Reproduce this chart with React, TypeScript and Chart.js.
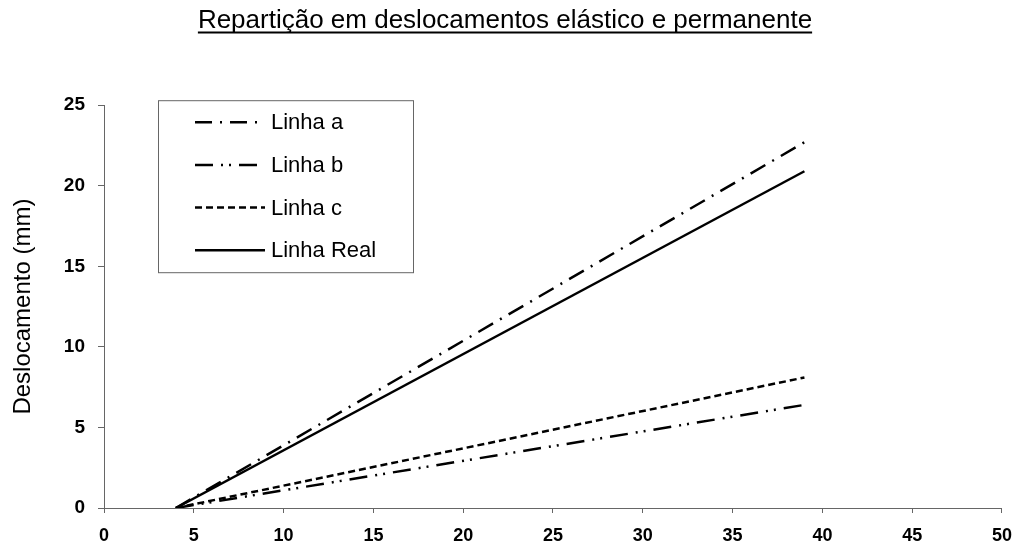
import React, { useEffect, useRef } from 'react';
import { Chart, registerables } from 'chart.js';

Chart.register(...registerables);

const titleText = 'Repartição em deslocamentos elástico e permanente';
const yAxisTitle = 'Deslocamento (mm)';
const seriesLabels = ['Linha a', 'Linha b', 'Linha c', 'Linha Real'];
const xPoints = [4, 39];
const linhaA = [0, 22.7];
const linhaB = [0, 6.4];
const linhaC = [0, 8.1];
const linhaReal = [0, 20.9];
const xTickValues = [0, 5, 10, 15, 20, 25, 30, 35, 40, 45, 50];
const yTickValues = [0, 5, 10, 15, 20, 25];

const FONT = '"Liberation Sans", Arial, sans-serif';
const TITLE_SIZE = 26;
const TITLE_PAD_TOP = 5;

const seriesValues = [linhaA, linhaB, linhaC, linhaReal];
const seriesDash = [
  [17, 8, 2, 8],
  [18, 8, 2, 6, 2, 8],
  [7, 4],
  [],
];

const titleUnderline = {
  id: 'titleUnderline',
  afterDraw(chart: any) {
    const tb = chart.titleBlock;
    if (!tb) return;
    const { ctx } = chart;
    ctx.save();
    ctx.font = `${TITLE_SIZE}px ${FONT}`;
    const w = ctx.measureText(titleText).width;
    const cx = (tb.left + tb.right) / 2;
    const y = tb.top + TITLE_PAD_TOP + (TITLE_SIZE * 1.2) / 2 + 12;
    ctx.strokeStyle = '#000';
    ctx.lineWidth = 2;
    ctx.beginPath();
    ctx.moveTo(cx - w / 2, y);
    ctx.lineTo(cx + w / 2, y);
    ctx.stroke();
    ctx.restore();
  },
};

const insideLegend = {
  id: 'insideLegend',
  afterDraw(chart: any) {
    const { ctx, chartArea } = chart;
    const x0 = chartArea.left + 54;
    const y0 = chartArea.top - 5;
    const w = 255;
    const h = 172;
    ctx.save();
    ctx.fillStyle = '#fff';
    ctx.fillRect(x0, y0, w, h);
    ctx.strokeStyle = '#666';
    ctx.lineWidth = 1;
    ctx.setLineDash([]);
    ctx.strokeRect(x0 + 0.5, y0 + 0.5, w, h);
    chart.data.datasets.forEach((ds: any, i: number) => {
      const y = y0 + 22 + i * 42.7;
      ctx.beginPath();
      ctx.setLineDash(ds.borderDash || []);
      ctx.lineWidth = ds.borderWidth;
      ctx.strokeStyle = ds.borderColor;
      ctx.moveTo(x0 + 37, y);
      ctx.lineTo(x0 + (i === 0 ? 100 : 107), y);
      ctx.stroke();
      ctx.setLineDash([]);
      ctx.fillStyle = '#000';
      ctx.font = `22px ${FONT}`;
      ctx.textBaseline = 'middle';
      ctx.textAlign = 'left';
      ctx.fillText(ds.label, x0 + 113, y + 1);
    });
    ctx.restore();
  },
};

export default function App() {
  const ref = useRef<HTMLCanvasElement | null>(null);

  useEffect(() => {
    if (!ref.current) return;
    const datasets = seriesLabels.map((label, i) => ({
      label,
      data: xPoints.map((x, j) => ({ x, y: seriesValues[i][j] })),
      borderColor: '#000',
      backgroundColor: '#000',
      borderWidth: 2.5,
      borderDash: seriesDash[i],
      pointRadius: 0,
      fill: false,
      tension: 0,
    }));

    const chart = new Chart(ref.current, {
      type: 'line',
      data: { datasets },
      options: {
        animation: false,
        responsive: false,
        maintainAspectRatio: false,
        layout: { padding: { left: 0, right: 14, top: 0, bottom: 0 } },
        plugins: {
          legend: { display: false },
          tooltip: { enabled: false },
          title: {
            display: true,
            text: titleText,
            color: '#000',
            font: { family: FONT, size: TITLE_SIZE, weight: 'normal', lineHeight: 1.2 },
            padding: { top: TITLE_PAD_TOP, bottom: 69 },
          },
        },
        scales: {
          x: {
            type: 'linear',
            min: xTickValues[0],
            max: xTickValues[xTickValues.length - 1],
            afterBuildTicks: (scale: any) => {
              scale.ticks = xTickValues.map((v) => ({ value: v }));
            },
            afterFit: (scale: any) => {
              scale.height = 36;
            },
            grid: {
              drawOnChartArea: false,
              drawTicks: true,
              tickLength: 5,
              color: '#666',
            },
            border: { display: true, color: '#666', width: 1 },
            ticks: {
              color: '#000',
              padding: 12,
              maxRotation: 0,
              autoSkip: false,
              font: { family: FONT, size: 18, weight: 'bold' },
            },
          },
          y: {
            type: 'linear',
            min: yTickValues[0],
            max: yTickValues[yTickValues.length - 1],
            afterBuildTicks: (scale: any) => {
              scale.ticks = yTickValues.map((v) => ({ value: v }));
            },
            afterFit: (scale: any) => {
              scale.width = 104;
            },
            grid: {
              drawOnChartArea: false,
              drawTicks: true,
              tickLength: 6,
              color: '#666',
            },
            border: { display: true, color: '#666', width: 1, dash: [3, 2] },
            ticks: {
              color: '#000',
              padding: 13,
              autoSkip: false,
              font: { family: FONT, size: 19, weight: 'bold' },
            },
            title: {
              display: true,
              text: yAxisTitle,
              color: '#000',
              font: { family: FONT, size: 24, weight: 'normal', lineHeight: 1.2 },
              padding: { top: 9, bottom: 0 },
            },
          },
        },
      },
      plugins: [titleUnderline, insideLegend],
    } as any);

    return () => chart.destroy();
  }, []);

  return (
    <div style={{ position: 'fixed', left: 0, top: 0, width: 1024, height: 544, background: '#fff' }}>
      <canvas ref={ref} width={1024} height={544} style={{ display: 'block', width: 1024, height: 544 }} />
    </div>
  );
}
